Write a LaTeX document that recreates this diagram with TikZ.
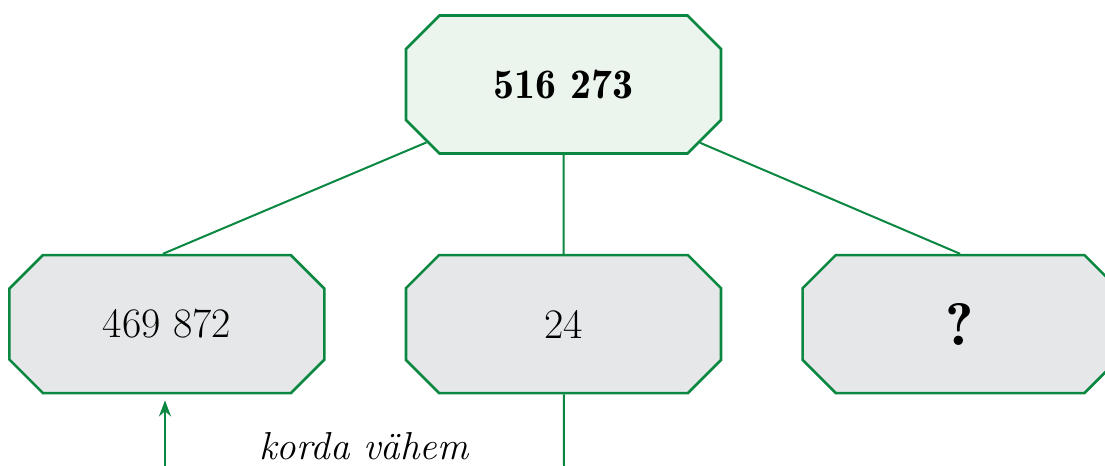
\documentclass[tikz,border=0pt]{standalone}
\usepackage{tikz}
\usetikzlibrary{arrows.meta,positioning,shapes.misc}
\definecolor{boxgreen}{RGB}{10,135,65}
\definecolor{topfill}{RGB}{235,245,238}
\definecolor{boxgray}{RGB}{230,231,232}
\tikzset{
  numbox/.style={chamfered rectangle, chamfered rectangle xsep=9.5pt,
    chamfered rectangle ysep=9.5pt, draw=boxgreen, line width=1.3pt,
    fill=boxgray, minimum width=157.5pt, minimum height=69pt, inner sep=0pt,
    font=\fontsize{21}{25}\selectfont},
  topbox/.style={numbox, fill=topfill},
  link/.style={draw=boxgreen, line width=1pt}
}

\begin{document}
\begin{tikzpicture}[x=0.5pt, y=-0.5pt, node distance=49.5pt and 39.5pt]
    \useasboundingbox (0,0) rectangle (1105,466);

    \node[topbox] (total) at (563.5,84.5) {\fontseries{b}\selectfont 516 273};
    \node[numbox] (mid) [below=of total] {24};
    \node[numbox] (left) [left=of mid] {469 872};
    \node[numbox] (right) [right=of mid] {\fontsize{30}{32}\fontseries{b}\selectfont ?};

    \coordinate (foot) at (165,466);
    \coordinate (midfoot) at (564,466);

    \draw[link] (total) -- ([xshift=-2pt]left.north);
    \draw[link] (total) -- (mid);
    \draw[link] (total) -- (right.north);
    \draw[link] (mid) -- (midfoot);
    \draw[link, -{Stealth[length=8pt,width=6pt]}] (foot) -- ([yshift=-3pt]foot |- left.south);

    \node[anchor=base, font=\fontsize{19.5}{23}\selectfont\itshape] (hint) at (364,459) {korda vähem};
\end{tikzpicture}
\end{document}
